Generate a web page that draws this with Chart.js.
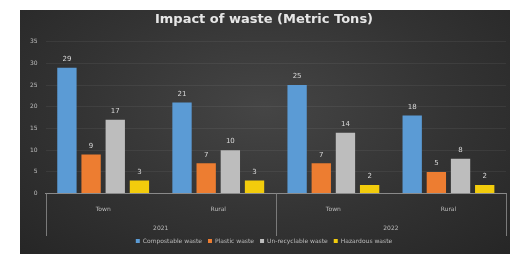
<!DOCTYPE html>
<html>
<head>
<meta charset="utf-8">
<script src="https://cdn.jsdelivr.net/npm/chart.js"></script>
<style>
  html, body { margin: 0; padding: 0; background: #fff; }
  #box {
    position: absolute; left: 20px; top: 10px; width: 490px; height: 244px;
    background: radial-gradient(ellipse at 50% 40%, #454545 0%, #333 55%, #262626 100%);
  }
</style>
</head>
<body>
<div id="box"><canvas id="wasteChart"></canvas></div>
<script>
// chart data
var places = ['Town', 'Rural', 'Town', 'Rural'];
var years = ['2021', '2022'];
var compostable = [29, 21, 25, 18];
var plastic = [9, 7, 7, 5];
var unrecyclable = [17, 10, 14, 8];
var hazardous = [3, 3, 2, 2];
var seriesNames = ['Compostable waste', 'Plastic waste', 'Un-recyclable waste', 'Hazardous waste'];
var yTicks = [0, 5, 10, 15, 20, 25, 30, 35];

// write the value above each bar, and the year dividers under the axis
var extras = {
    id: 'extras',
    afterDatasetsDraw: function (chart) {
        var ctx = chart.ctx;
        ctx.save();
        ctx.font = '7px "DejaVu Sans"';
        ctx.fillStyle = '#d8d8d8';
        ctx.textAlign = 'center';
        ctx.textBaseline = 'bottom';
        chart.data.datasets.forEach(function (ds, i) {
            chart.getDatasetMeta(i).data.forEach(function (bar, j) {
                ctx.fillText(ds.data[j], bar.x, bar.y - 5);
            });
        });
        // group dividers
        var area = chart.chartArea;
        var yearAxis = chart.scales.years;
        var n = years.length;
        ctx.strokeStyle = '#7a7a7a';
        ctx.lineWidth = 1;
        for (var k = 0; k <= n; k++) {
            var x = Math.round(area.left + (area.right - area.left) * k / n) + 0.5;
            ctx.beginPath();
            ctx.moveTo(x, area.bottom);
            ctx.lineTo(x, yearAxis.bottom + 4);
            ctx.stroke();
        }
        ctx.restore();
    }
};

function makeBar(label, values, color) {
    return {
        label: label,
        data: values,
        backgroundColor: color,
        borderWidth: 0,
        barPercentage: 0.8,
        categoryPercentage: 0.84
    };
}

new Chart(document.getElementById('wasteChart').getContext('2d'), {
    type: 'bar',
    data: {
        labels: places,
        datasets: [
            makeBar(seriesNames[0], compostable, '#5b9bd5'),
            makeBar(seriesNames[1], plastic, '#ed7d31'),
            makeBar(seriesNames[2], unrecyclable, '#bdbdbd'),
            makeBar(seriesNames[3], hazardous, '#f2cc0c')
        ]
    },
    options: {
        responsive: true,
        maintainAspectRatio: false,
        animation: false,
        layout: { padding: { left: 2, right: 4, top: 0, bottom: 0 } },
        plugins: {
            title: {
                display: true,
                text: 'Impact of waste (Metric Tons)',
                color: '#e6e6e6',
                font: { family: 'DejaVu Sans', size: 13, weight: 'bold' },
                padding: { top: 2, bottom: 14 }
            },
            legend: {
                position: 'bottom',
                labels: {
                    color: '#bcbcbc',
                    font: { family: 'DejaVu Sans', size: 6 },
                    boxWidth: 4,
                    boxHeight: 4,
                    padding: 6
                }
            },
            tooltip: { enabled: false }
        },
        scales: {
            y: {
                min: 0,
                max: 35,
                afterBuildTicks: function (axis) {
                    axis.ticks = yTicks.map(function (v) { return { value: v }; });
                },
                ticks: { color: '#bcbcbc', font: { family: 'DejaVu Sans', size: 6 }, padding: 8 },
                grid: { color: 'rgba(255,255,255,0.06)', drawTicks: false },
                border: { display: false }
            },
            x: {
                ticks: { color: '#bcbcbc', font: { family: 'DejaVu Sans', size: 6 }, padding: 4 },
                grid: { display: false },
                border: { color: '#8a8a8a' }
            },
            years: {
                type: 'category',
                position: 'bottom',
                labels: years,
                offset: true,
                ticks: { color: '#bcbcbc', font: { family: 'DejaVu Sans', size: 6 }, padding: 0 },
                grid: { display: false },
                border: { display: false }
            }
        }
    },
    plugins: [extras]
});
</script>
</body>
</html>
